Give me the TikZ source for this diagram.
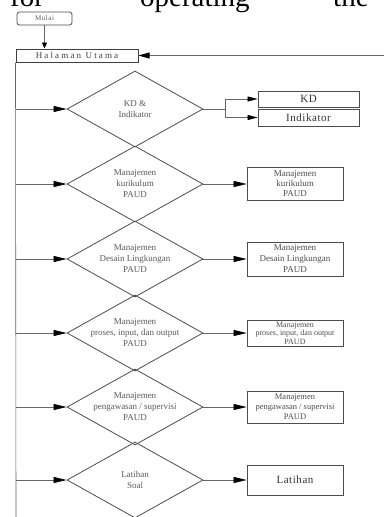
\documentclass[tikz,border=0pt]{standalone}
\usepackage{fontspec}
\setmainfont{Liberation Serif}
\newfontfamily\widefont[LetterSpace=5]{Liberation Serif}
\newfontfamily\widestfont[LetterSpace=24]{Liberation Serif}
\newfontfamily\startfont[LetterSpace=8]{Liberation Serif}
\usetikzlibrary{shapes.geometric}
\usetikzlibrary{arrows.meta}
\tikzset{>={Triangle[width=6pt,length=13pt,color=black]}}
\tikzset{
	dia/.style={diamond, draw=black!70, line width=0.8pt, minimum width=136pt, minimum height=76pt, inner sep=0pt},
	box/.style={draw=black!70, line width=0.8pt, minimum width=96pt, align=center, inner sep=0pt, text=black!70},
	lbl/.style={align=center, font=\fontsize{9}{11}\selectfont, text=black!65},
	link/.style={draw=black!60, line width=0.6pt}
}

\begin{document}
\begin{tikzpicture}[x=1pt,y=-1pt]
	\useasboundingbox (0,0) rectangle (384,517);
	% cut line of text above the chart
	\node[anchor=base west, inner sep=0pt, font=\fontsize{29}{30}\selectfont] (tfor) at (10,6) {for};
	\node[anchor=base west, inner sep=0pt, font=\fontsize{29}{30}\selectfont] (top) at (140,6) {operating};
	\node[anchor=base west, inner sep=0pt, font=\fontsize{29}{30}\selectfont] (tthe) at (333,6) {the};
	% start and main page
	\node[draw=black!70, line width=0.8pt, rounded corners=2.5pt, minimum width=55pt, minimum height=13pt, inner sep=0pt, text=black!65, font=\startfont\fontsize{7}{8}\selectfont] (mulai) at (44.5,18.5) {Mulai};
	\node[draw=black!75, line width=1pt, minimum width=122pt, minimum height=13pt, inner sep=0pt, text=black!75, font=\widestfont\fontsize{9}{10}\selectfont] (halaman) at (77,55.5) {Halaman Utama};
	\coordinate (back) at (384,55.5);
	\coordinate (spineend) at (16,517);
	\draw[link,->,>={Triangle[width=5pt,length=6pt,color=black]}] (mulai.south) -- (mulai.south |- halaman.north);
	\draw[link,->,>={Triangle[width=6pt,length=11pt,color=black]}] (back) -- (halaman.east);
	\draw[link] (halaman.south west) -- (spineend);
	% menu choices
	\node[dia, label={[lbl]center:{KD \&\\Indikator}}] (d1) at (135,109) {};
	\node[dia, label={[lbl]center:{Manajemen\\kurikulum\\PAUD}}] (d2) at (135,184) {};
	\node[dia, label={[lbl]center:{Manajemen\\Desain Lingkungan\\PAUD}}] (d3) at (135,259) {};
	\node[dia, label={[lbl]center:{Manajemen\\proses, input, dan output\\PAUD}}] (d4) at (135,333) {};
	\node[dia, label={[lbl]center:{Manajemen\\pengawasan / supervisi\\PAUD}}] (d5) at (135,407) {};
	\node[dia, label={[lbl]center:{Latihan\\Soal}}] (d6) at (135,480) {};
	% pages
	\node[box, minimum width=101pt, minimum height=16pt, font=\widefont\fontsize{11}{12}\selectfont, text=black!80] (kd) at (308.5,99) {KD};
	\node[box, minimum width=101pt, minimum height=17pt, font=\widefont\fontsize{11}{12}\selectfont, text=black!80] (ind) at (308.5,117.5) {Indikator};
	\node[box, minimum height=33pt, font=\fontsize{9}{10}\selectfont] (b2) at (295,184) {Manajemen\\kurikulum\\PAUD};
	\node[box, minimum height=34pt, font=\fontsize{9}{11}\selectfont] (b3) at (295,259) {Manajemen\\Desain Lingkungan\\PAUD};
	\node[box, minimum height=26pt, font=\fontsize{8}{8.5}\selectfont] (b4) at (295,333) {Manajemen\\proses, input, dan output\\PAUD};
	\node[box, minimum height=32pt, font=\fontsize{8.5}{10}\selectfont] (b5) at (295,407) {Manajemen\\pengawasan / supervisi\\PAUD};
	\node[box, minimum height=30pt, font=\widefont\fontsize{11}{12}\selectfont, text=black!80] (b6) at (295,480) {Latihan};
	% connectors
	\foreach \d in {d1,d2,d3,d4,d5,d6}
		\draw[link,->] (halaman.south west |- \d.west) -- (\d.west);
	\coordinate (split) at (225,109);
	\draw[link] (d1.east) -- (split);
	\draw[link] (split |- kd.west) -- (split |- ind.west);
	\draw[link,->,>={Triangle[width=5pt,length=10pt,color=black]}] (split |- kd.west) -- (kd.west);
	\draw[link,->,>={Triangle[width=5pt,length=10pt,color=black]}] (split |- ind.west) -- (ind.west);
	\foreach \d/\b in {d2/b2,d3/b3,d4/b4,d5/b5,d6/b6}
		\draw[link,->] (\d.east) -- (\b.west);
\end{tikzpicture}
\end{document}
